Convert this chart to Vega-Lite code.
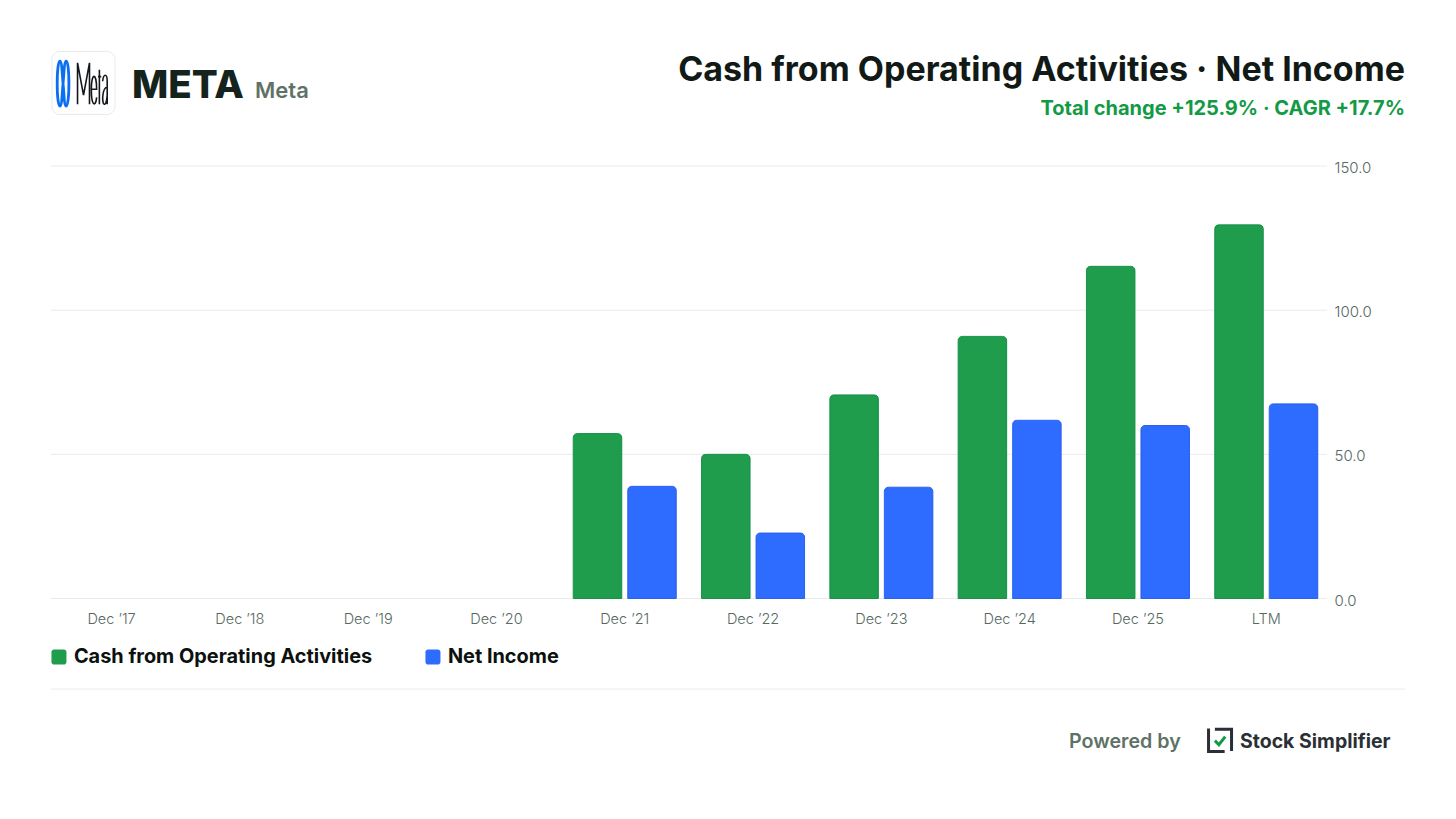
{
"$schema":"https://vega.github.io/schema/vega-lite/v6.json",
"width":1276,"height":432.5,
"autosize":{"type":"none"},
"padding":{"left":51,"top":166,"right":129,"bottom":220.5},
"background":"#ffffff",
"config":{"view":{"stroke":null},"font":"Inter"},
"resolve":{"scale":{"x":"independent"}},
"layer":[
{"data":{"values":[{"level":0},{"level":50},{"level":100},{"level":150}]},"mark":{"type":"rule","color":"#e9ecea","strokeWidth":1},
"encoding":{"x":{"datum":0,"type":"quantitative","scale":{"domain":[0,1],"range":[0,1276]},"axis":null},"x2":{"datum":1},"y":{"field":"level","type":"quantitative","title":null,"scale":{"domain":[0,150],"nice":false},
"axis":{"orient":"right","values":[0,50,100,150],"format":".1f","domain":false,"ticks":false,"grid":false,"labelFontSize":15,"labelColor":"#566860","labelPadding":7,"labelOffset":1.5,"labelFontWeight":300}}}},
{"data":{"values":[
{"period":"Dec ’21","metric":"Cash from Operating Activities","value":57.2},
{"period":"Dec ’21","metric":"Net Income","value":38.9},
{"period":"Dec ’22","metric":"Cash from Operating Activities","value":50.0},
{"period":"Dec ’22","metric":"Net Income","value":22.7},
{"period":"Dec ’23","metric":"Cash from Operating Activities","value":70.6},
{"period":"Dec ’23","metric":"Net Income","value":38.6},
{"period":"Dec ’24","metric":"Cash from Operating Activities","value":90.9},
{"period":"Dec ’24","metric":"Net Income","value":61.8},
{"period":"Dec ’25","metric":"Cash from Operating Activities","value":115.2},
{"period":"Dec ’25","metric":"Net Income","value":60.0},
{"period":"LTM","metric":"Cash from Operating Activities","value":129.6},
{"period":"LTM","metric":"Net Income","value":67.5}
]},
"mark":{"type":"bar","cornerRadiusTopLeft":4,"cornerRadiusTopRight":4,"strokeWidth":1},
"encoding":{
"x":{"field":"period","type":"nominal","title":null,
"scale":{"domain":["Dec ’17","Dec ’18","Dec ’19","Dec ’20","Dec ’21","Dec ’22","Dec ’23","Dec ’24","Dec ’25","LTM"],"range":[-3.6,1279.4],"paddingInner":0,"paddingOuter":0},
"axis":{"labelAngle":0,"domain":false,"ticks":false,"grid":false,"labelFontSize":14.5,"labelColor":"#566860","labelPadding":14,"labelFont":"Inter","labelFontWeight":300}},
"xOffset":{"field":"metric","type":"nominal","scale":{"domain":["Cash from Operating Activities","Net Income"],"paddingInner":0.11,"paddingOuter":0.232}},
"y":{"field":"value","type":"quantitative","title":null,
"scale":{"domain":[0,150],"nice":false},
"axis":{"orient":"right","values":[0,50,100,150],"format":".1f","domain":false,"ticks":false,"grid":false,"labelFontSize":15,"labelColor":"#566860","labelPadding":7,"labelOffset":1.5,"labelFontWeight":300}},
"color":{"field":"metric","type":"nominal","scale":{"domain":["Cash from Operating Activities","Net Income"],"range":["#1f9d4d","#2e6bff"]},
"legend":{"orient":"none","legendX":-2,"legendY":481,"direction":"horizontal","columns":2,"title":null,"labelFontSize":19.9,"labelFontWeight":700,"labelLimit":500,"labelColor":"#0c110e","labelFont":"Inter","symbolType":"M-0.65,-1H0.65A0.35,0.35 0 0 1 1,-0.65V0.65A0.35,0.35 0 0 1 0.65,1H-0.65A0.35,0.35 0 0 1 -1,0.65V-0.65A0.35,0.35 0 0 1 -0.65,-1Z","symbolSize":225,"symbolStrokeWidth":0,"symbolOpacity":1,"labelOffset":5,"columnPadding":50,"padding":0}},
"stroke":{"field":"metric","type":"nominal","scale":{"domain":["Cash from Operating Activities","Net Income"],"range":["#17924a","#2a62f0"]},"legend":null}
}},
{"layer":[
{"data":{"values":[{"t":"rule"}]},"mark":{"type":"rule","color":"#e9ecea","strokeWidth":1},
"encoding":{"x":{"datum":0,"type":"quantitative","scale":{"domain":[0,1],"range":[0,1354]},"axis":null},"x2":{"datum":1},"y":{"datum":-31.4,"type":"quantitative"}}},
{"data":{"values":[{"label":"Cash from Operating Activities · Net Income"}]},"mark":{"type":"text","align":"right","baseline":"middle","fontSize":34,"fontWeight":700,"color":"#111a16"},
"encoding":{"text":{"field":"label"},"x":{"datum":1,"type":"quantitative"},"y":{"datum":182.8,"type":"quantitative"}}},
{"data":{"values":[{"label":"Total change +125.9% · CAGR +17.7%"}]},"mark":{"type":"text","align":"right","baseline":"middle","fontSize":20,"fontWeight":700,"color":"#129a45"},
"encoding":{"text":{"field":"label"},"x":{"datum":1,"type":"quantitative"},"y":{"datum":169.6,"type":"quantitative"}}},
{"data":{"values":[{"label":"META"}]},"mark":{"type":"text","align":"left","baseline":"middle","fontSize":38.5,"fontWeight":800,"color":"#14231c"},
"encoding":{"text":{"field":"label"},"x":{"datum":0.0598,"type":"quantitative"},"y":{"datum":177.9,"type":"quantitative"}}},
{"data":{"values":[{"label":"Meta"}]},"mark":{"type":"text","align":"left","baseline":"middle","fontSize":22,"fontWeight":600,"color":"#5f7268"},
"encoding":{"text":{"field":"label"},"x":{"datum":0.1507,"type":"quantitative"},"y":{"datum":176.0,"type":"quantitative"}}},
{"data":{"values":[{"label":"Powered by"}]},"mark":{"type":"text","align":"left","baseline":"middle","fontSize":19.7,"fontWeight":600,"color":"#5f7268"},
"encoding":{"text":{"field":"label"},"x":{"datum":0.7518,"type":"quantitative"},"y":{"datum":-49.8,"type":"quantitative"}}},
{"data":{"values":[{"label":"Stock Simplifier"}]},"mark":{"type":"text","align":"left","baseline":"middle","fontSize":19.5,"fontWeight":700,"color":"#2b2f36"},
"encoding":{"text":{"field":"label"},"x":{"datum":0.8781,"type":"quantitative"},"y":{"datum":-49.6,"type":"quantitative"}}},
{"data":{"values":[{"t":"icon"}]},"mark":{"type":"point","shape":"M-1,-1V1H0.4M-0.45,-0.95H1V0.95","filled":false,"size":529,"stroke":"#2b2f36","strokeWidth":3,"opacity":1},
"encoding":{"x":{"datum":0.8634,"type":"quantitative"},"y":{"datum":-49.1,"type":"quantitative"}}},
{"data":{"values":[{"t":"check"}]},"mark":{"type":"point","shape":"M-0.45,0.05L-0.1,0.4L0.45,-0.3","filled":false,"size":529,"stroke":"#129a45","strokeWidth":3,"opacity":1},
"encoding":{"x":{"datum":0.8634,"type":"quantitative"},"y":{"datum":-49.1,"type":"quantitative"}}},
{"data":{"values":[{"t":"logo"}]},"mark":{"type":"point","shape":"M-0.75,-1H0.75A0.25,0.25 0 0 1 1,-0.75V0.75A0.25,0.25 0 0 1 0.75,1H-0.75A0.25,0.25 0 0 1 -1,0.75V-0.75A0.25,0.25 0 0 1 -0.75,-1Z","filled":false,"size":3969,"stroke":"#e8eaea","strokeWidth":1,"opacity":1},
"encoding":{"x":{"datum":0.0240,"type":"quantitative"},"y":{"datum":178.8,"type":"quantitative"}}},
{"data":{"values":[{"t":"infinity"}]},"mark":{"type":"point","shape":"M-0.14,-1C-0.3,-1 -0.3,1 -0.14,1C-0.05,1 -0.04,0.4 0,0C0.04,-0.4 0.05,-1 0.14,-1C0.3,-1 0.3,1 0.14,1C0.05,1 0.04,0.4 0,0C-0.04,-0.4 -0.05,-1 -0.14,-1Z","filled":false,"size":2025,"stroke":"#0a6ff0","strokeWidth":2.8,"opacity":1},
"encoding":{"x":{"datum":0.0089,"type":"quantitative"},"y":{"datum":178.6,"type":"quantitative"}}},
{"data":{"values":[{"t":"wordmark"}]},"mark":{"type":"point","shape":"M-0.63,0.9V-0.9L-0.37,0.5L-0.11,-0.9V0.9M-0.03,0.25H0.2C0.2,-0.5 -0.03,-0.5 -0.03,0.25C-0.03,1.05 0.17,1 0.2,0.6M0.32,-0.6V0.9M0.26,-0.3H0.4M0.46,-0.1C0.5,-0.45 0.66,-0.45 0.66,-0.1V0.9M0.66,0.15C0.42,0.2 0.42,0.95 0.55,0.9C0.62,0.88 0.66,0.6 0.66,0.5","filled":false,"size":2116,"stroke":"#14181c","strokeWidth":1.6,"opacity":1},
"encoding":{"x":{"datum":0.0303,"type":"quantitative"},"y":{"datum":178.6,"type":"quantitative"}}}
]}
]
}
